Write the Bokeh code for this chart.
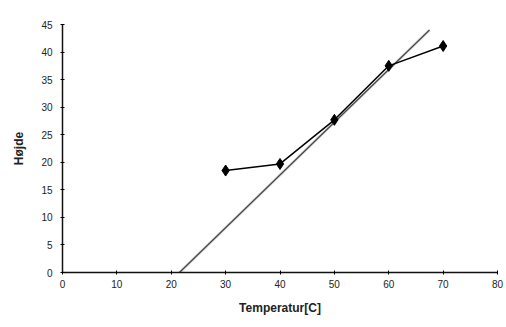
from bokeh.plotting import figure
from bokeh.models import Range1d, FixedTicker
from bokeh.embed import file_html
from bokeh.resources import INLINE

# Measured series
temperature = [30, 40, 50, 60, 70]
height = [18.5, 19.7, 27.7, 37.5, 41.1]

# Straight fitted line (end points)
trend_x = [21.5, 67.5]
trend_y = [0.0, 44.0]

x_ticks = [0, 10, 20, 30, 40, 50, 60, 70, 80]
y_ticks = [0, 5, 10, 15, 20, 25, 30, 35, 40, 45]

p = figure(width=506, height=327, output_backend="svg", toolbar_location=None,
           x_range=Range1d(0, 80), y_range=Range1d(0, 45),
           min_border_left=62, min_border_right=9, min_border_top=24,
           min_border_bottom=55)
p.outline_line_color = None
p.grid.visible = False
p.background_fill_color = "white"

for ax in (p.xaxis[0], p.yaxis[0]):
    ax.axis_line_color = "#111111"
    ax.axis_line_width = 1.5
    ax.major_tick_in = 2
    ax.major_tick_out = 2
    ax.major_tick_line_color = "black"
    ax.minor_tick_line_color = None
    ax.major_label_text_font = "Liberation Sans"
    ax.major_label_text_font_size = "10px"
    ax.major_label_text_color = "#222222"
    ax.axis_label_text_font = "Liberation Sans"
    ax.axis_label_text_font_size = "12px"
    ax.axis_label_text_font_style = "bold"
    ax.axis_label_text_color = "#222222"

p.xaxis.ticker = FixedTicker(ticks=x_ticks)
p.yaxis.ticker = FixedTicker(ticks=y_ticks)
p.xaxis.axis_label = "Temperatur[C]"
p.yaxis.axis_label = "Højde"
p.xaxis.major_label_standoff = 5
p.yaxis.major_label_standoff = 8
p.xaxis.axis_label_standoff = 10
p.yaxis.axis_label_standoff = 12

# fitted line with a faint halo
p.line(trend_x, trend_y, line_color="#bbbbbb", line_width=3, line_alpha=0.5)
p.line(trend_x, trend_y, line_color="#444444", line_width=1.2)

# measured series
p.line(temperature, height, line_color="black", line_width=1.5)
p.scatter(temperature, height, marker="diamond", size=11,
          fill_color="black", line_color="black")

open("out.html", "w").write(file_html(p, INLINE))
